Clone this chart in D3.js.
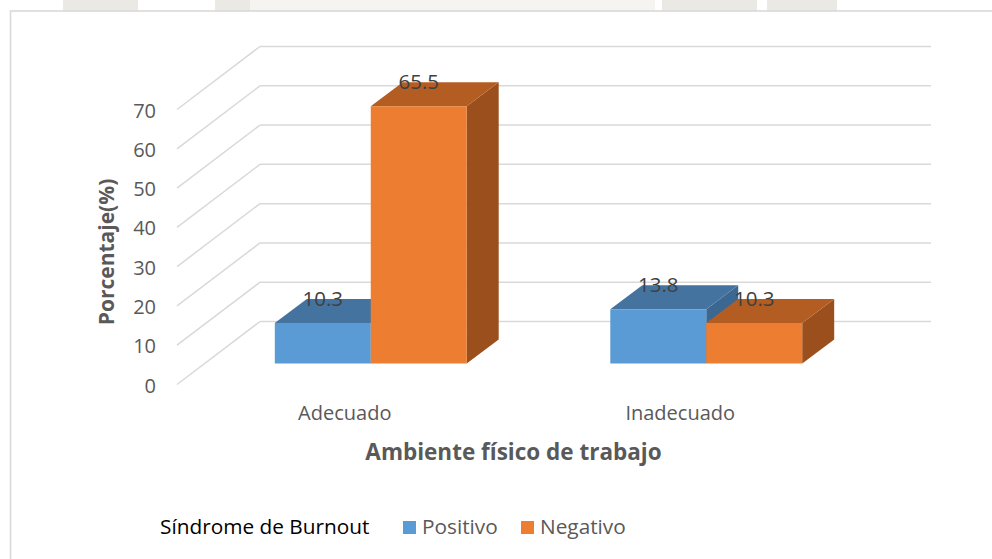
<!DOCTYPE html>
<html>
<head>
<meta charset="utf-8">
<script src="https://cdn.jsdelivr.net/npm/d3@7/dist/d3.min.js"></script>
<style>
  html, body { margin: 0; padding: 0; background: #ffffff; }
  svg { display: block; font-family: "Open Sans", "Noto Sans", sans-serif; }
</style>
</head>
<body>
<svg id="chart" width="992" height="559"></svg>
<script>
// ---- data ----
const categories = ["Adecuado", "Inadecuado"];
const seriesNames = ["Positivo", "Negativo"];
const positivo = [10.3, 13.8];
const negativo = [65.5, 10.3];
const yTicks = [0, 10, 20, 30, 40, 50, 60, 70];
const legendTitle = "Síndrome de Burnout";
const xTitle = "Ambiente físico de trabajo";
const yTitle = "Porcentaje(%)";

// ---- styles ----
const colors = {
  Positivo: { front: "#5b9bd5", top: "#44739f", side: "#3b6791" },
  Negativo: { front: "#ed7d31", top: "#b45d22", side: "#9a4f1c" }
};
const gridColor = "#d9d9d9";

const svg = d3.select("#chart");

// faint watermark fragments above the chart frame
const wm = [[63,0,75,11],[215,0,45,11],[250,0,250,11],[490,0,165,11],[662,0,95,11],[767,0,70,11]];
svg.append("g").selectAll("rect").data(wm).join("rect")
  .attr("x", d => d[0]).attr("y", d => d[1]).attr("width", d => d[2]).attr("height", d => d[3])
  .attr("fill", (d, i) => (i === 2 || i === 3) ? "#f5f4f1" : "#ebe9e4");

// chart frame
svg.append("rect").attr("x", 10.5).attr("y", 11).attr("width", 1000).attr("height", 600)
  .attr("fill", "#ffffff").attr("stroke", gridColor).attr("stroke-width", 1.6);

// ---- scales (back wall) ----
const y = d3.scaleLinear().domain([0, 70]).range([321.5, 46.5]);
const x = d3.scaleBand().domain(categories).range([260, 931]).padding(0);
const groupW = x.bandwidth() * 0.572;
const xs = d3.scaleBand().domain(seriesNames).range([0, groupW]).padding(0);

// depth offsets (oblique projection)
const floorFront = { dx: -83, dy: 63 };
const barFront = { dx: -57, dy: 42 };
const barBack = { dx: -25, dy: 18 };

// gridlines: back horizontal + side diagonal
const grid = svg.append("g").attr("stroke", gridColor).attr("stroke-width", 1.5).attr("fill", "none");
grid.selectAll("line.h").data(yTicks).join("line").attr("class", "h")
  .attr("x1", x.range()[0]).attr("x2", x.range()[1])
  .attr("y1", d => y(d)).attr("y2", d => y(d));
grid.selectAll("line.d").data(yTicks).join("line").attr("class", "d")
  .attr("x1", x.range()[0]).attr("y1", d => y(d))
  .attr("x2", x.range()[0] + floorFront.dx).attr("y2", d => y(d) + floorFront.dy);

// y tick labels
svg.append("g").selectAll("text").data(yTicks).join("text")
  .attr("x", 156).attr("y", d => y(d) + floorFront.dy + 1)
  .attr("dy", "0.35em").attr("text-anchor", "end")
  .attr("font-size", 20).attr("fill", "#595959").text(d => d);

// ---- bars ----
const bars = [];
categories.forEach((c, i) => {
  [["Positivo", positivo[i]], ["Negativo", negativo[i]]].forEach(([s, v]) => {
    bars.push({ cat: c, series: s, value: v });
  });
});

function barGeom(d) {
  const x0 = x(d.cat) + (x.bandwidth() - groupW) / 2 + xs(d.series);
  const x1 = x0 + xs.bandwidth();
  const yt = y(d.value), y0 = y(0);
  const F = (xx, yy) => [xx + barFront.dx, yy + barFront.dy];
  const B = (xx, yy) => [xx + barBack.dx, yy + barBack.dy];
  return {
    front: [F(x0, yt), F(x1, yt), F(x1, y0), F(x0, y0)],
    top: [F(x0, yt), F(x1, yt), B(x1, yt), B(x0, yt)],
    side: [F(x1, yt), B(x1, yt), B(x1, y0), F(x1, y0)],
    label: [(F(x0, yt)[0] + F(x1, yt)[0]) / 2, B(x0, yt)[1]]
  };
}
const line = d3.line();
const bg = svg.append("g");
bars.forEach(d => {
  const g = barGeom(d);
  const col = colors[d.series];
  const gg = bg.append("g");
  gg.append("path").attr("d", line(g.side) + "Z").attr("fill", col.side);
  gg.append("path").attr("d", line(g.top) + "Z").attr("fill", col.top);
  gg.append("path").attr("d", line(g.front) + "Z").attr("fill", col.front);
});
// data labels
svg.append("g").selectAll("text").data(bars).join("text")
  .attr("x", d => barGeom(d).label[0]).attr("y", d => barGeom(d).label[1])
  .attr("dy", "0.35em").attr("text-anchor", "middle")
  .attr("font-size", 20.5).attr("fill", "#404040").text(d => d.value);

// category labels
svg.append("g").selectAll("text").data(categories).join("text")
  .attr("x", d => x(d) + x.bandwidth() / 2 + floorFront.dx)
  .attr("y", 420).attr("text-anchor", "middle")
  .attr("font-size", 20).attr("fill", "#595959").text(d => d);

// axis titles
svg.append("text").attr("x", (x.range()[0] + x.range()[1]) / 2 + floorFront.dx + 1)
  .attr("y", 460).attr("text-anchor", "middle")
  .attr("font-size", 22.5).attr("font-weight", "bold").attr("fill", "#595959").text(xTitle);
svg.append("text").attr("transform", "translate(114,252) rotate(-90)")
  .attr("text-anchor", "middle").attr("font-size", 21).attr("font-weight", "bold")
  .attr("fill", "#595959").text(yTitle);

// legend
const lg = svg.append("g");
lg.append("text").attr("x", 160).attr("y", 534).attr("font-size", 20.8).attr("fill", "#000000").text(legendTitle);
const legendX = { Positivo: 403, Negativo: 521 };
seriesNames.forEach(s => {
  lg.append("rect").attr("x", legendX[s]).attr("y", 521).attr("width", 13).attr("height", 13)
    .attr("fill", colors[s].front);
  lg.append("text").attr("x", legendX[s] + 19).attr("y", 534).attr("font-size", 20.8)
    .attr("fill", "#595959").text(s);
});
</script>
</body>
</html>
